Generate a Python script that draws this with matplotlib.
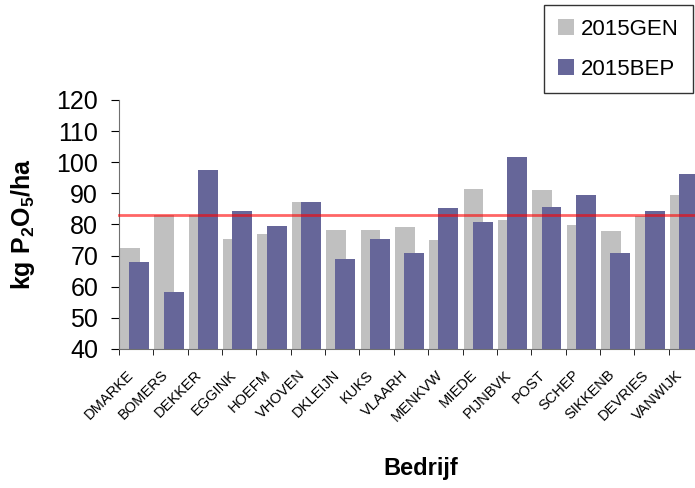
import numpy as np
import matplotlib
matplotlib.use('Agg')
import matplotlib.pyplot as plt

plt.rcParams['font.family'] = ['Liberation Sans', 'DejaVu Sans']
plt.rcParams['mathtext.fontset'] = 'custom'
plt.rcParams['mathtext.rm'] = 'Liberation Sans:bold'
plt.rcParams['mathtext.it'] = 'Liberation Sans:bold'
plt.rcParams['mathtext.bf'] = 'Liberation Sans:bold'

# bedrijven
bedrijven = ['DMARKE', 'BOMERS', 'DEKKER', 'EGGINK', 'HOEFM', 'VHOVEN', 'DKLEIJN',
             'KUKS', 'VLAARH', 'MENKVW', 'MIEDE', 'PIJNBVK', 'POST', 'SCHEP',
             'SIKKENB', 'DEVRIES', 'VANWIJK']
gen_2015 = [72.3, 82.9, 83.2, 75.2, 76.8, 87.1, 78.1, 78.1, 79.1, 74.9, 91.3,
            81.6, 91.0, 79.7, 77.8, 82.6, 89.4]
bep_2015 = [67.8, 58.2, 97.4, 84.2, 79.4, 87.1, 68.8, 75.5, 71.0, 85.2, 80.7,
            101.6, 85.5, 89.4, 71.0, 84.2, 96.1]
norm = 83.0

kleur_gen = '#C0C0C0'
kleur_bep = '#666699'

fig = plt.figure(figsize=(6.95, 4.88), dpi=100)
ax = fig.add_axes([119/695, 1-349/488, (703-119)/695, 249/488])

x = np.arange(len(bedrijven))
breedte = 0.58
ax.bar(x - 0.18, gen_2015, breedte, color=kleur_gen, label='2015GEN', zorder=2)
ax.bar(x + 0.09, bep_2015, breedte, color=kleur_bep, label='2015BEP', zorder=3)
ax.axhline(norm, color='red', alpha=0.6, linewidth=2, zorder=4, clip_on=False)

ax.set_xlim(-0.5, len(bedrijven) - 0.5)
ax.set_ylim(40, 120)
ax.set_yticks(np.arange(40, 121, 10))
ax.tick_params(axis='y', labelsize=18, length=6, pad=9, color='black')

# tick streepjes op de grenzen, labels bij de bars
ax.set_xticks(np.arange(len(bedrijven) + 1) - 0.5, minor=True)
ax.set_xticks(x - 0.15, bedrijven, rotation=45, ha='right', va='center',
              rotation_mode='anchor', fontsize=10.5)
ax.tick_params(axis='x', which='major', length=0, pad=17)
ax.tick_params(axis='x', which='minor', length=4, color='black')

for s in ['top', 'right']:
    ax.spines[s].set_visible(False)
ax.spines['left'].set_color('#707070')
ax.spines['bottom'].set_color('#707070')

fig.text(23/695, 1-224/488, r'kg P$_2$O$_5$/ha', rotation=90, ha='center',
         va='center', fontsize=18, fontweight='bold')
fig.text(421/695, 1-469/488, 'Bedrijf', ha='center', va='center',
         fontsize=17, fontweight='bold')

leg = fig.legend(loc='upper left', bbox_to_anchor=(544/695, 1-5/488),
                 fontsize=16, frameon=True, fancybox=False, edgecolor='black',
                 handlelength=0.75, handleheight=0.75, handletextpad=0.3,
                 labelspacing=0.85, borderpad=0.62, borderaxespad=0)
leg.get_frame().set_linewidth(1)

fig.savefig('out.png', dpi=100)
